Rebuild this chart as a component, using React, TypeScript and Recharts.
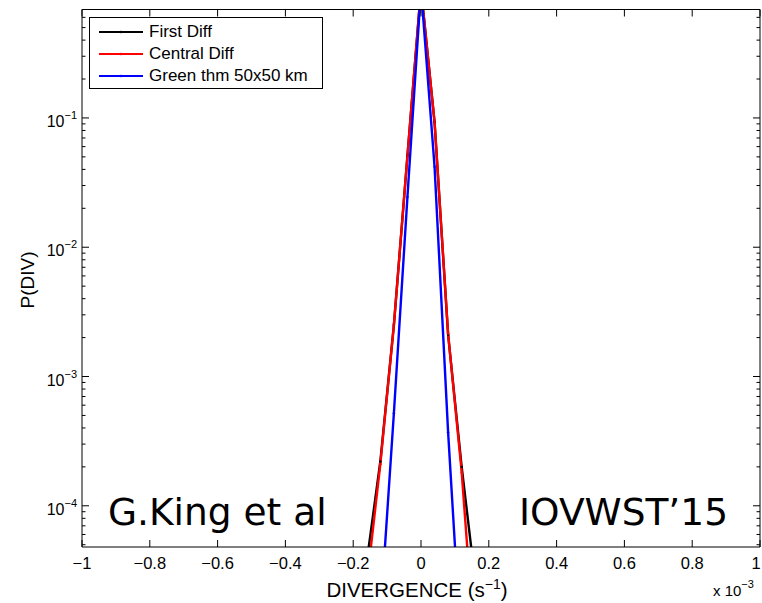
import React from 'react';
import { LineChart, Line, XAxis, YAxis, Legend } from 'recharts';

// divergence bins (units of 1e-3 s^-1)
const divergence = [-0.16, -0.12, -0.08, -0.04, 0, 0.04, 0.08, 0.12, 0.16];
// P(DIV) for each method
const firstDiff = [3.7e-5, 2.2e-4, 2.5e-3, 0.051, 1.0, 0.093, 2.1e-3, 2.0e-4, 2.6e-5];
const centralDiff = [2.5e-5, 2.1e-4, 2.5e-3, 0.051, 1.0, 0.093, 2.14e-3, 1.82e-4, 7e-6];
const greenThm = [null, 1.4e-5, 5.2e-4, 0.0245, 1.0, 0.042, 3.7e-4, 6.7e-6, null];

const xTicks = [-1, -0.8, -0.6, -0.4, -0.2, 0, 0.2, 0.4, 0.6, 0.8, 1];
const yDecades = [1e-5, 1e-4, 1e-3, 1e-2, 1e-1];
const yMinorMult = [1, 2, 3, 4, 5, 6, 7, 8, 9];
const yDomain: [number, number] = [4.8e-5, 0.69];

const yTicks = yDecades
  .flatMap((d) => yMinorMult.map((m) => m * d))
  .filter((v) => v >= yDomain[0] && v <= yDomain[1]);

const data = divergence.map((d, i) => ({
  div: d,
  first: firstDiff[i],
  central: centralDiff[i],
  green: greenThm[i],
}));

const series = [
  { key: 'first', name: 'First Diff', color: '#000000' },
  { key: 'central', name: 'Central Diff', color: '#ff0000' },
  { key: 'green', name: 'Green thm 50x50 km', color: '#0000ff' },
];

const FONT = '"Liberation Sans", Arial, Helvetica, sans-serif';
const MAJOR = 7;
const MINOR = 3.5;

const isDecade = (v: number) =>
  Math.abs(Math.log10(v) - Math.round(Math.log10(v))) < 1e-6;

const fmtX = (v: number) => (v === 0 ? '0' : (v < 0 ? '\u2212' : '') + Math.abs(v));

const LeftTick = (props: any) => {
  const { x, y, payload } = props;
  const v = payload.value;
  const major = isDecade(v);
  return (
    <g>
      <line x1={x} y1={y} x2={x + (major ? MAJOR : MINOR)} y2={y} stroke="#000" />
      {major && (
        <text x={x - 5} y={y + 9} textAnchor="end" fontFamily={FONT} fontSize={16} fill="#000">
          10
          <tspan dy={-8} fontSize={11}>
            {'\u2212' + Math.abs(Math.round(Math.log10(v)))}
          </tspan>
        </text>
      )}
    </g>
  );
};

const RightTick = (props: any) => {
  const { x, y, payload } = props;
  const len = isDecade(payload.value) ? MAJOR : MINOR;
  return <line x1={x} y1={y} x2={x - len} y2={y} stroke="#000" />;
};

const BottomTick = (props: any) => {
  const { x, y, payload } = props;
  // keep the last label inside the page
  const tx = Math.min(x, 756);
  return (
    <g>
      <line x1={x} y1={y} x2={x} y2={y - MAJOR} stroke="#000" />
      <text x={tx} y={y + 22} textAnchor="middle" fontFamily={FONT} fontSize={16.5} fill="#000">
        {fmtX(payload.value)}
      </text>
    </g>
  );
};

const TopTick = (props: any) => {
  const { x, y } = props;
  return <line x1={x} y1={y} x2={x} y2={y + MAJOR} stroke="#000" />;
};

const LegendBox = ({ payload }: any) => {
  const items = [...(payload || [])].sort(
    (a: any, b: any) =>
      series.findIndex((s) => s.name === a.value) - series.findIndex((s) => s.name === b.value)
  );
  return (
    <div
      style={{
        width: 234,
        height: 72,
        boxSizing: 'border-box',
        border: '1px solid #000',
        background: '#fff',
        paddingTop: 2.5,
      }}
    >
      {items.map((entry: any) => (
        <div key={entry.value} style={{ display: 'flex', alignItems: 'center', height: 22 }}>
          <svg width={53} height={22} style={{ display: 'block' }}>
            <line x1={9} x2={53} y1={11} y2={11} stroke={entry.color} strokeWidth={2.2} />
            <circle cx={31} cy={11} r={1.3} fill={entry.color} />
          </svg>
          <span style={{ marginLeft: 6, fontFamily: FONT, fontSize: 17, color: '#000', whiteSpace: 'nowrap' }}>
            {entry.value}
          </span>
        </div>
      ))}
    </div>
  );
};

export default function App() {
  return (
    <div style={{ position: 'absolute', left: 0, top: 0, width: 762, height: 603, background: '#fff' }}>
      <LineChart width={762} height={603} data={data} margin={{ top: 8.5, right: 0, bottom: 0, left: 0 }}>
        <XAxis
          xAxisId="bottom"
          dataKey="div"
          type="number"
          domain={[-1, 1]}
          ticks={xTicks}
          interval={0}
          allowDataOverflow
          height={56}
          tickSize={0}
          tickMargin={0}
          tickLine={false}
          axisLine={{ stroke: '#000' }}
          tick={<BottomTick />}
        />
        <XAxis
          xAxisId="top"
          orientation="top"
          dataKey="div"
          type="number"
          domain={[-1, 1]}
          ticks={xTicks}
          interval={0}
          allowDataOverflow
          height={1}
          tickSize={0}
          tickMargin={0}
          tickLine={false}
          axisLine={{ stroke: '#000' }}
          tick={<TopTick />}
        />
        <YAxis
          yAxisId="left"
          type="number"
          scale="log"
          domain={yDomain}
          ticks={yTicks}
          interval={0}
          allowDataOverflow
          width={82}
          tickSize={0}
          tickMargin={0}
          tickLine={false}
          axisLine={{ stroke: '#000' }}
          tick={<LeftTick />}
        />
        <YAxis
          yAxisId="right"
          orientation="right"
          type="number"
          scale="log"
          domain={yDomain}
          ticks={yTicks}
          interval={0}
          allowDataOverflow
          width={2}
          tickSize={0}
          tickMargin={0}
          tickLine={false}
          axisLine={{ stroke: '#000' }}
          tick={<RightTick />}
        />
        <Legend
          layout="vertical"
          align="center"
          verticalAlign="middle"
          content={<LegendBox />}
          wrapperStyle={{ left: 89, top: 17, width: 234, height: 72, right: 'auto', bottom: 'auto' }}
        />
        {series.map((s) => (
          <Line
            key={s.key}
            xAxisId="bottom"
            yAxisId="left"
            type="linear"
            dataKey={s.key}
            name={s.name}
            stroke={s.color}
            strokeWidth={2.4}
            dot={{ r: 1.2, fill: s.color, stroke: s.color, strokeWidth: 0 }}
            activeDot={false}
            isAnimationActive={false}
          />
        ))}
      </LineChart>
      <svg
        width={762}
        height={603}
        style={{ position: 'absolute', left: 0, top: 0, pointerEvents: 'none' }}
      >
        <text x={108} y={525} fontFamily='"DejaVu Sans", sans-serif' fontSize={37.5} fill="#000">
          G.King et al
        </text>
        <text x={519} y={525} fontFamily='"DejaVu Sans", sans-serif' fontSize={37.5} fill="#000">
          IOVWST’15
        </text>
        <text x={417} y={597} textAnchor="middle" fontFamily={FONT} fontSize={20.5} fill="#000">
          DIVERGENCE (s
          <tspan dy={-8} fontSize={14}>{'\u2212'}1</tspan>
          <tspan dy={8}>)</tspan>
        </text>
        <text x={713} y={596} fontFamily={FONT} fontSize={15} fill="#000">
          x 10
          <tspan dy={-8} fontSize={11}>{'\u2212'}3</tspan>
        </text>
        <text
          x={34}
          y={280}
          transform="rotate(-90 34 280)"
          textAnchor="middle"
          fontFamily={FONT}
          fontSize={19}
          fill="#000"
        >
          P(DIV)
        </text>
      </svg>
    </div>
  );
}
